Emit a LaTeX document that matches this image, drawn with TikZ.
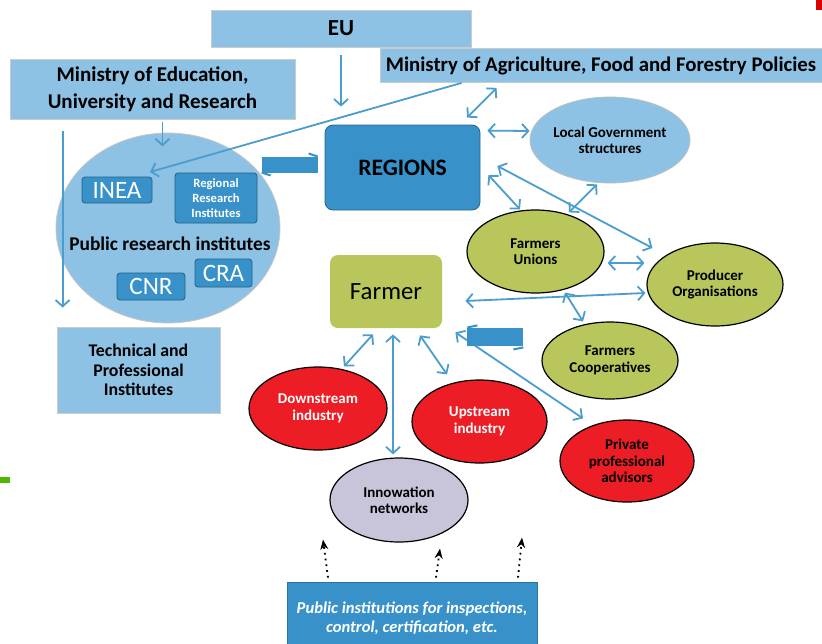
\documentclass[tikz,border=0pt]{standalone}
\usepackage{fontspec}
\setmainfont{Carlito}
\usetikzlibrary{arrows.meta,shapes.geometric,calc}

\definecolor{paleblue}{HTML}{8DC2E5}
\definecolor{midblue}{HTML}{3892C9}
\definecolor{linkblue}{HTML}{4B9DCD}
\definecolor{olive}{HTML}{B8C65B}
\definecolor{actorred}{HTML}{EC1D25}
\definecolor{lavender}{HTML}{C8C4DA}

\tikzset{
  box/.style={draw=gray!40, fill=paleblue, inner sep=0pt, align=center},
  inbox/.style={draw=midblue!65!black, fill=midblue, rounded corners=1.5pt,
    text=white, inner sep=0pt, align=center},
  actor/.style={ellipse, draw=black, line width=0.6pt, inner sep=0pt, align=center,
    font=\fontsize{7.5}{8.2}\selectfont\bfseries},
  tip/.tip={Straight Barb[length=3.2pt,width=7pt,line width=0.9pt]},
  link/.style={draw=linkblue, line width=0.9pt, tip-tip},
  onelink/.style={draw=linkblue, line width=0.9pt, -tip},
  bar/.style={draw=midblue, line width=8pt},
  dotlink/.style={black, dotted, line width=0.9pt, -{Stealth[length=5pt,width=4pt]}}
}

\begin{document}
\begin{tikzpicture}[x=0.5pt, y=-0.5pt]
  \useasboundingbox (0,0) rectangle (822,643);

  % slide leftovers
  \fill[green!60!black!70!yellow] (0,477) rectangle (10,483);
  \fill[red!85!black] (816,0) rectangle (822,10);

  % Policy level
  \node[box, minimum width=130pt, minimum height=18.5pt, font=\fontsize{11.5}{13}\selectfont\bfseries]
    (eu) at (341,28.5) {EU};
  \node[box, minimum width=142.5pt, minimum height=30pt, font=\fontsize{10.5}{13.5}\selectfont\bfseries]
    (mined) at (152.5,89) {Ministry of Education,\\University and Research};
  \node[box, minimum width=221pt, minimum height=17pt, font=\fontsize{10.4}{11}\selectfont\bfseries]
    (minag) at (601,65.5) {Ministry of Agriculture, Food and Forestry Policies};

  % Research institutes
  \node[ellipse, draw=gray!45, fill=paleblue, minimum width=112pt, minimum height=95pt]
    (pri) at (168,228) {};
  \node[inbox, minimum width=35pt, minimum height=13pt, font=\fontsize{12.5}{12.5}\selectfont]
    (inea) at (117,190) {INEA};
  \node[inbox, minimum width=41pt, minimum height=25pt, font=\fontsize{6.3}{7.4}\selectfont\bfseries]
    (rri) at (216,198) {Regional\\Research\\Institutes};
  \node[inbox, minimum width=34pt, minimum height=13.5pt, font=\fontsize{12.5}{12.5}\selectfont]
    (cnr) at (151,286.5) {CNR};
  \node[inbox, minimum width=28.5pt, minimum height=14pt, font=\fontsize{12.5}{12.5}\selectfont]
    (cra) at (223.5,273) {CRA};
  \node[font=\fontsize{9.7}{11}\selectfont\bfseries] (prilabel) at (170,244) {Public research institutes};
  \node[box, minimum width=81.5pt, minimum height=43pt, font=\fontsize{8.9}{9.8}\selectfont\bfseries]
    (techinst) at (138.5,370) {Technical and\\Professional\\Institutes};

  % Regional level
  \node[draw=midblue!70!black, fill=midblue, rounded corners=4pt, minimum width=77.5pt,
    minimum height=42.5pt, font=\fontsize{11.8}{13}\selectfont\bfseries]
    (regions) at (402.5,167.5) {REGIONS};
  \node[actor, draw=gray!50, line width=0.4pt, fill=paleblue, minimum width=69pt, minimum height=43pt]
    (localgov) at (610,140) {Local Government\\structures};
  \node[actor, fill=olive, minimum width=68.5pt, minimum height=41.5pt]
    (unions) at (535.5,251.5) {Farmers\\Unions};
  \node[actor, fill=olive, minimum width=68pt, minimum height=41.5pt]
    (prodorg) at (715,284.5) {Producer\\Organisations};
  \node[actor, fill=olive, minimum width=68pt, minimum height=38.5pt]
    (coops) at (610,360.5) {Farmers\\Cooperatives};

  % Farm level
  \node[fill=olive, rounded corners=4pt, minimum width=56pt, minimum height=36.5pt,
    font=\fontsize{12.4}{13}\selectfont] (farmer) at (386,291.5) {Farmer};
  \node[actor, fill=actorred, text=white, minimum width=69pt, minimum height=41.5pt]
    (downstream) at (318,408.5) {Downstream\\industry};
  \node[actor, fill=actorred, text=white, minimum width=67.5pt, minimum height=41.5pt]
    (upstream) at (479.5,421.5) {Upstream\\industry};
  \node[actor, fill=actorred, minimum width=67pt, minimum height=41pt]
    (advisors) at (627,461) {Private\\professional\\advisors};
  \node[actor, fill=lavender, minimum width=69pt, minimum height=42pt]
    (innov) at (399,500) {Innowation\\networks};
  \node[draw=midblue!80!black, fill=midblue, text=white, minimum width=125pt, minimum height=31pt,
    inner sep=0pt, align=center, text depth=0pt, font=\fontsize{8.3}{9.8}\selectfont\bfseries\itshape]
    (pubinst) at (412,613) {\rule{0pt}{10pt}Public institutions for inspections,\\control, certification, etc.};

  % Links
  \draw[onelink, shorten <=4pt, shorten >=9pt] (eu.south) -- (eu.south |- regions.north);
  \draw[onelink] ($(mined.south)+(10,3)$) -- ($(mined.south)+(10,27)$);
  \draw[onelink] ($(mined.south west)+(53,12)$) -- ($(techinst.north west)+(6,-19)$);
  \draw[onelink] ($(minag.south west)+(82,0)$) -- ($(pri)+(-18,-56)$);
  \draw[link] ($(minag.south west)+(117,5)$) -- ($(regions.north)+(64.5,-7)$);
  \draw[link] ($(regions.north east)+(7,6)$) -- ($(localgov.west)+(0,-9)$);
  \draw[link] ($(localgov.south)+(-13,1)$) -- ($(unions.north)+(33.5,3)$);
  \draw[link] ($(regions.east)+(8,7.5)$) -- ($(unions.north)+(-15.5,0)$);
  \draw[link] ($(regions.east)+(17,-1.5)$) -- ($(prodorg.west)+(6,-36.5)$);
  \draw[link] ($(unions.east)+(3,11.5)$) -- ($(prodorg.west)+(-2,-21.5)$);
  \draw[link] ($(farmer.east)+(23,9.5)$) -- ($(prodorg.west)+(-1,8.5)$);
  \draw[link] ($(unions.south)+(29.5,-1)$) -- ($(coops.north)+(-27,0)$);
  \draw[link] ($(farmer.south east)+(13,4)$) -- ($(advisors.north)+(-44,-1)$);
  \draw[link] ($(farmer.south)+(-13,6)$) -- ($(downstream.north)+(26,0)$);
  \draw[link] ($(farmer.south)+(7,6)$) -- ($(innov.north)+(-6,-3)$);
  \draw[link] ($(farmer.south)+(34,7)$) -- ($(upstream.north)+(-32.5,-5)$);

  % thick bars
  \draw[bar] ($(regions.west)+(-63,-3)$) -- ($(regions.west)+(-7,-3)$);
  \draw[midblue, line width=1pt] ($(regions.west)+(-7,-11)$) -- ++(-9,-3)
    ($(regions.west)+(-63,5)$) -- ++(9,3);
  \draw[bar, line width=9pt] ($(farmer.south east)+(25,9)$) -- ($(farmer.south east)+(81,9)$);
  \draw[midblue, line width=1pt] ($(farmer.south east)+(25,-1)$) -- ++(10,-2)
    ($(farmer.south east)+(81,19)$) -- ++(-10,2);

  % inspections
  \draw[dotlink] ($(pubinst.north)+(-84,-4)$) -- ($(pubinst.north)+(-89,-42)$);
  \draw[dotlink] ($(pubinst.north)+(24,-4)$) -- ($(pubinst.north)+(28,-33)$);
  \draw[dotlink] ($(pubinst.north)+(106,-4)$) -- ($(pubinst.north)+(110,-44)$);
\end{tikzpicture}
\end{document}
